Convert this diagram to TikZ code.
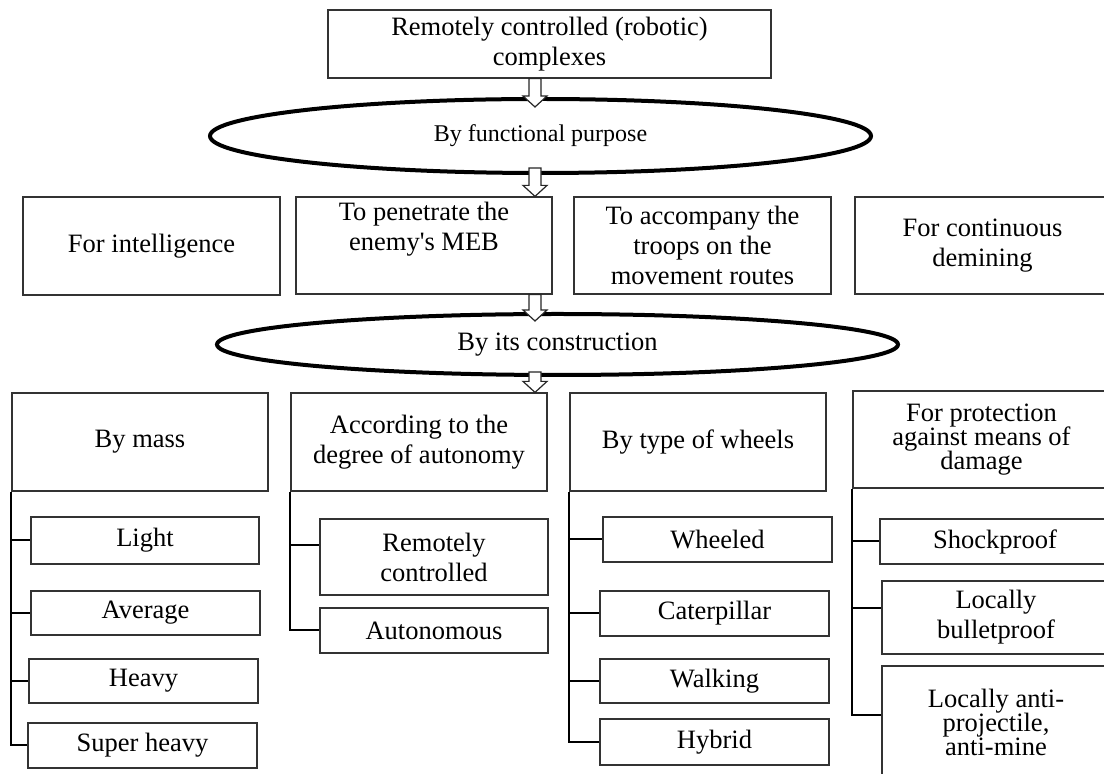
\documentclass[tikz,border=0pt]{standalone}
\usepackage{fontspec}
\setmainfont{Liberation Serif}
\usetikzlibrary{shapes.geometric,calc}

\newcommand\tightfont[1]{\fontsize{13.25}{#1}\selectfont\lineskiplimit=-20pt\relax}

\tikzset{
  box/.style={draw=black!80, line width=0.6pt, align=center, inner sep=0pt},
  sz/.style 2 args={minimum width=#1*0.5pt, minimum height=#2*0.5pt},
  oval/.style={ellipse, draw, line width=2pt, inner sep=0pt},
  tree/.style={line width=1pt},
  hollow/.style={draw=black!85, line width=0.6pt, fill=white},
}

% hollow block arrow: tail, tip
\newcommand\blockarrow[2]{%
  \draw[hollow] ($(#1)+(-6,0)$) -- ($(#2)+(-6,-11)$) -- ($(#2)+(-12,-11)$)
    -- (#2) -- ($(#2)+(12,-11)$) -- ($(#2)+(6,-11)$) -- ($(#1)+(6,0)$) -- cycle;}

\begin{document}
\begin{tikzpicture}[x=0.5pt, y=-0.5pt,
  every node/.style={font=\fontsize{13.25}{15}\selectfont},
]
\useasboundingbox (0,0) rectangle (1104,774);

% ── top and first split ──────────────────
\node[box, sz={443}{68}] (top) at (549.5,44) {Remotely controlled (robotic)\\complexes};
\node[oval, sz={661}{74}, font=\fontsize{12}{14}\selectfont] (purpose) at (540.5,136)
  {By functional purpose};

\node[box, sz={257}{98}] (intel) at (151.5,246) {For intelligence};
\node[box, sz={256}{97}] (meb) at (424,245.5) {To penetrate the\\enemy\textquotesingle s MEB\\\strut};
\node[box, sz={257}{97}] (escort) at (702.5,245.5) {To accompany the\\troops on the\\movement routes};
\node[box, sz={255}{97}] (demine) at (982.5,245.5) {For continuous\\demining};

% ── second split ─────────────────────────
\node[oval, sz={681}{61}] (build) at (557.5,344.5) {By its construction};

\node[box, sz={256}{98}] (mass) at (140,442) {By mass};
\node[box, sz={256}{98}] (auto) at (419,442) {According to the\\degree of autonomy};
\node[box, sz={256}{98}] (wheel) at (698,442) {By type of wheels};
\node[box, sz={257}{97}, font={\tightfont{12}}] (guard) at (981.5,439.5)
  {For protection\\against means of\\damage};

% ── by mass ──────────────────────────────
\node[box, sz={228}{47}] (light) at (145,540.5) {Light};
\node[box, sz={229}{44}] (avg) at (145.5,613) {Average};
\node[box, sz={229}{44}] (heavy) at (143.5,681) {Heavy};
\node[box, sz={229}{45}] (super) at (142.5,745.5) {Super heavy};

\draw[tree] (mass.south west) |- (super.west);
\foreach \n in {light,avg,heavy}
  \draw[tree] (mass.west |- \n.west) -- (\n.west);

% ── autonomy ─────────────────────────────
\node[box, sz={228}{76}] (remote) at (434,557) {Remotely\\controlled};
\node[box, sz={228}{45}] (autonom) at (434,630.5) {Autonomous};

\coordinate (rc) at ([yshift=6pt]remote.west);
\draw[tree] (auto.south west) |- (autonom.west);
\draw[tree] (auto.west |- rc) -- (rc);

% ── wheels ───────────────────────────────
\node[box, sz={229}{45}] (wheeled) at (717.5,539.5) {Wheeled};
\node[box, sz={229}{45}] (track) at (714.5,613.5) {Caterpillar};
\node[box, sz={229}{44}] (walk) at (714.5,681) {Walking};
\node[box, sz={229}{46}] (hybrid) at (714.5,742) {Hybrid};

\draw[tree] (wheel.south west) |- (hybrid.west);
\foreach \n in {wheeled,track,walk}
  \draw[tree] (wheel.west |- \n.west) -- (\n.west);

% ── protection ───────────────────────────
\node[box, sz={230}{45}] (shock) at (995,541.5) {Shockproof};
\node[box, sz={228}{73}] (bullet) at (996,617.5) {Locally\\bulletproof};
\node[box, sz={228}{112}, font={\tightfont{12}}] (antimine) at (996,722)
  {Locally anti-\\projectile,\\anti-mine};

\coordinate (bp) at ([yshift=4.5pt]bullet.west);
\coordinate (am) at ([yshift=3.5pt]antimine.west);
\draw[tree] (guard.south west) |- (am);
\draw[tree] (guard.west |- shock.west) -- (shock.west);
\draw[tree] (guard.west |- bp) -- (bp);

% ── block arrows ─────────────────────────
\coordinate (ax) at (535,0);
\path (top.south -| ax) coordinate (a1)
      (purpose.north -| ax) +(0,10) coordinate (b1)
      (purpose.south -| ax) +(0,-7) coordinate (a2)
      (meb.north -| ax) coordinate (b2)
      (meb.south -| ax) coordinate (a3)
      (build.north -| ax) +(0,9) coordinate (b3)
      (build.south -| ax) +(0,-5) coordinate (a4)
      (auto.north -| ax) coordinate (b4);
\blockarrow{a1}{b1}
\blockarrow{a2}{b2}
\blockarrow{a3}{b3}
\blockarrow{a4}{b4}

\end{tikzpicture}
\end{document}
